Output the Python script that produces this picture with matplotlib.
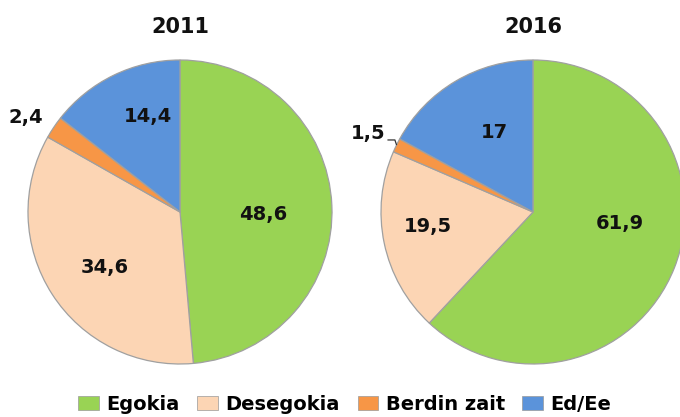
import matplotlib
matplotlib.use("Agg")
import matplotlib.pyplot as plt
import numpy as np
from matplotlib.patches import Patch

categories = ["Egokia", "Desegokia", "Berdin zait", "Ed/Ee"]
years = ["2011", "2016"]
values_2011 = [48.6, 34.6, 2.4, 14.4]
values_2016 = [61.9, 19.5, 1.5, 17.0]
labels_2011 = ["48,6", "34,6", "2,4", "14,4"]
labels_2016 = ["61,9", "19,5", "1,5", "17"]

colors = ["#99D354", "#FCD5B4", "#F79646", "#5B93DA"]
# label placement style: radius fraction and angular nudge (deg) from wedge middle
label_r_2011 = [0.55, 0.615, 1.19, 0.66]
label_da_2011 = [-4.5, 4.0, 2.5, -7.3]
label_r_2016 = [0.577, 0.70, 1.20, 0.58]
label_da_2016 = [14.2, -4.0, 0.4, -4.3]

W, H = 680, 417
fig = plt.figure(figsize=(W / 100, H / 100), dpi=100)
fig.patch.set_facecolor("white")

R = 152
centers = [(180, 212), (533, 212)]
datasets = [(values_2011, labels_2011, label_r_2011, label_da_2011),
            (values_2016, labels_2016, label_r_2016, label_da_2016)]

numfont = dict(family="DejaVu Sans", weight="bold", size=14, color="#111111")

for (cx, cy), year, (vals, labs, lr, lda) in zip(centers, years, datasets):
    ax = fig.add_axes([(cx - R) / W, (H - cy - R) / H, 2 * R / W, 2 * R / H])
    wedges, _ = ax.pie(vals, colors=colors, startangle=90, counterclock=False,
                       radius=1.0,
                       wedgeprops=dict(edgecolor="#a0a0a0", linewidth=0.9))
    ax.set_xlim(-1, 1)
    ax.set_ylim(-1, 1)
    ax.set_aspect("equal")
    ax.axis("off")
    for w, lab, r, da in zip(wedges, labs, lr, lda):
        mid = np.deg2rad((w.theta1 + w.theta2) / 2 + da)
        x, y = r * np.cos(mid), r * np.sin(mid)
        ax.text(x, y, lab, ha="center", va="center", clip_on=False, **numfont)
        if lab == "1,5":
            m0 = np.deg2rad((w.theta1 + w.theta2) / 2)
            ex, ey = 1.0 * np.cos(m0), 1.0 * np.sin(m0)
            ax.plot([ex - 0.055, ex - 0.01, ex],
                    [ey + 0.035, ey + 0.035, ey + 0.005],
                    color="#333333", lw=0.9, clip_on=False)
    fig.text(cx / W, 1 - 27 / H, year, ha="center", va="center",
             family="DejaVu Sans", weight="bold", size=15, color="#111111")

handles = [Patch(facecolor=c, edgecolor="#999999", linewidth=0.5) for c in colors]
fig.legend(handles, categories, loc="center", bbox_to_anchor=(345 / W, 1 - 404 / H),
           ncol=4, frameon=False, handlelength=1.05, handleheight=0.75,
           handletextpad=0.4, columnspacing=0.9, borderpad=0.0,
           prop=dict(family="DejaVu Sans", weight="bold", size=14))

fig.savefig("out.png", dpi=100, facecolor="white")
